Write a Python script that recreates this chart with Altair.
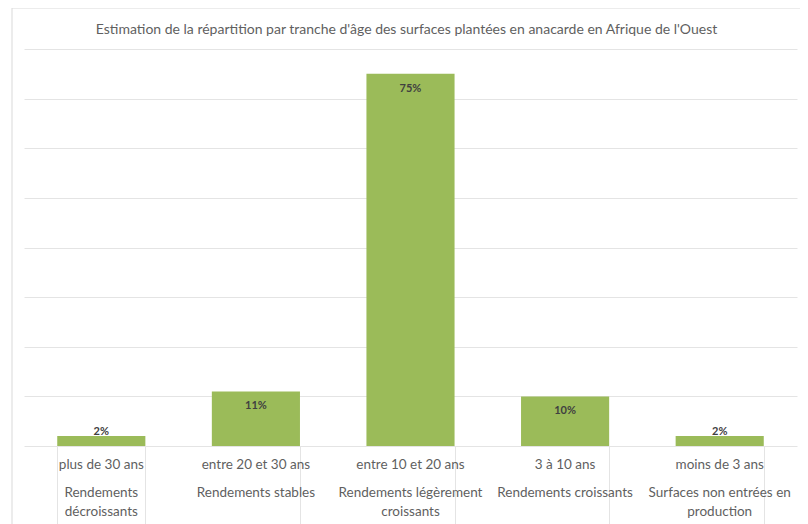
import altair as alt
import pandas as pd

title_text = "Estimation de la répartition par tranche d'âge des surfaces plantées en anacarde en Afrique de l'Ouest"
ages = ["plus de 30 ans", "entre 20 et 30 ans", "entre 10 et 20 ans", "3 à 10 ans", "moins de 3 ans"]
yields = ["Rendements\ndécroissants", "Rendements stables", "Rendements légèrement\ncroissants",
          "Rendements croissants", "Surfaces non entrées en\nproduction"]
shares = [0.02, 0.11, 0.75, 0.10, 0.02]
labels = ["2%", "11%", "75%", "10%", "2%"]
grid_values = [0, 0.1, 0.2, 0.3, 0.4, 0.5, 0.6, 0.7, 0.8]

df = pd.DataFrame({"age": ages, "rend": yields, "share": shares, "label": labels})

FONT = "Lato"
GREY = "#5f5f5f"
W, H = 773, 397

x = alt.X("age:N", sort=ages, title=None,
          scale=alt.Scale(paddingInner=0.43, paddingOuter=0.215),
          axis=alt.Axis(labels=False, domain=False, ticks=True, tickBand="extent",
                        tickSize=80, tickColor="#e4e4e4", grid=False))
y = alt.Y("share:Q", title=None, scale=alt.Scale(domain=[0, 0.8], nice=False),
          axis=alt.Axis(labels=False, ticks=False, domain=False,
                        values=grid_values, gridColor="#e4e4e4", gridWidth=1))

base = alt.Chart(df)

bars = base.mark_bar(color="#9BBB59").encode(x=x, y=y)

big = base.transform_filter("datum.share >= 0.05").mark_text(
    font=FONT, fontSize=11, fontWeight="bold", color="#404040", baseline="middle", dy=15
).encode(x=x, y=y, text="label:N")

small = base.transform_filter("datum.share < 0.05").mark_text(
    font=FONT, fontSize=11, fontWeight="bold", color="#404040", baseline="middle", dy=-4
).encode(x=x, y=y, text="label:N")

row1 = base.mark_text(font=FONT, fontSize=13.5, color=GREY, baseline="middle").encode(
    x=x, y=alt.value(H + 19), text="age:N")

row2 = base.mark_text(font=FONT, fontSize=13.5, color=GREY, baseline="middle",
                      lineBreak="\n", lineHeight=19).encode(
    x=x, y=alt.value(H + 47), text="rend:N")

frame = alt.Chart(alt.Data(values=[{}])).mark_rect(
    fill="transparent", stroke="#d9d9d9", strokeWidth=1
).encode(x=alt.value(-12), x2=alt.value(W + 9), y=alt.value(-41), y2=alt.value(H + 90))

title = alt.Chart(alt.Data(values=[{"t": title_text}])).mark_text(
    font=FONT, fontSize=14, color=GREY, baseline="middle", align="center"
).encode(x=alt.value(W / 2 - 4), y=alt.value(-19), text="t:N")

chart = alt.layer(frame, bars, big, small, row1, row2, title).properties(
    width=W, height=H,
    autosize=alt.AutoSizeParams(type="none"),
    padding={"left": 16, "top": 41, "right": 3, "bottom": 80},
).configure(background="white").configure_view(stroke="transparent", strokeWidth=0)

chart.save("out.html", embed_options={"renderer": "svg", "actions": False})
